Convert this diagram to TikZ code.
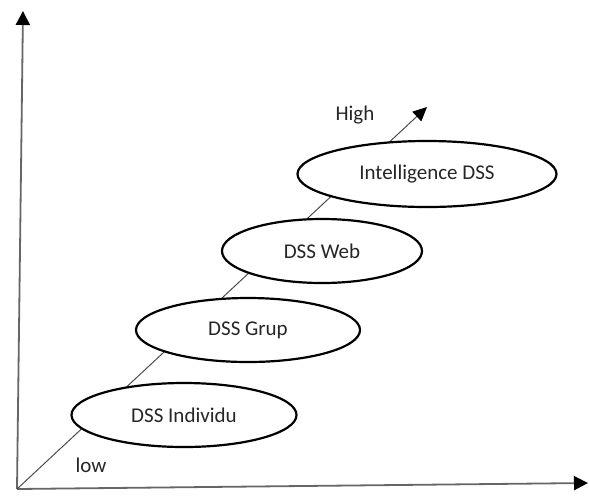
\documentclass[tikz,border=0pt]{standalone}
\usepackage{fontspec}
\setmainfont{Carlito}
\usetikzlibrary{arrows.meta,shapes.geometric}

\begin{document}
\begin{tikzpicture}[x=1pt, y=-1pt,
  axis/.style={draw=black!60, line width=1.8pt, -{Triangle[length=14pt,width=14pt,color=black]}},
  level/.style={ellipse, draw=black, line width=2.2pt, fill=white, inner sep=0pt,
    font=\fontsize{21}{25}\selectfont, text=black!85},
  tag/.style={font=\fontsize{21}{25}\selectfont, text=black!85}]
\useasboundingbox (0,0) rectangle (589,496);
% axes and the rising line
\coordinate (o) at (17,489);
\coordinate (ytop) at (23,11);
\coordinate (xend) at (588,483);
\coordinate (dend) at (427,107);
\draw[axis] (o) -- (ytop);
\draw[axis] (o) -- (xend);
\draw[black!70, line width=1pt, -{Triangle[length=14pt,width=13pt,color=black]}] (o) -- (dend);
% the four levels
\node[level, minimum width=225pt, minimum height=64pt] (indiv) at (184,415) {DSS Individu};
\node[level, minimum width=224pt, minimum height=64pt] (grup) at (248,330) {DSS Grup};
\node[level, minimum width=200pt, minimum height=64pt] (web) at (322,251) {DSS Web};
\node[level, minimum width=259pt, minimum height=66pt] (intel) at (427,174) {Intelligence DSS};
\node[tag] (low) at (91,465) {low};
\node[tag] (high) at (355,115) {High};
\end{tikzpicture}
\end{document}
